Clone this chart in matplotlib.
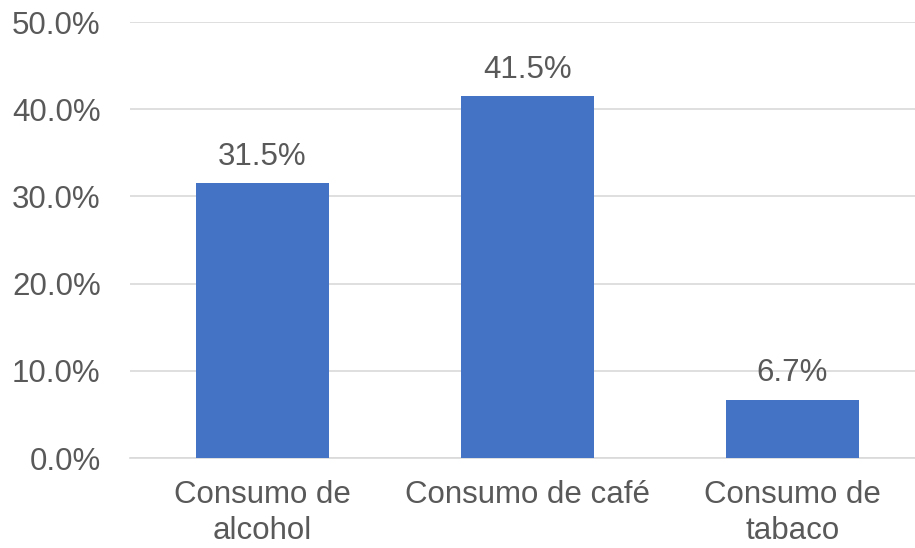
import matplotlib
matplotlib.use("Agg")
import matplotlib.pyplot as plt
from matplotlib.ticker import FuncFormatter, MultipleLocator

categories = ["Consumo de\nalcohol", "Consumo de café", "Consumo de\ntabaco"]
values = [31.5, 41.5, 6.7]

plt.rcParams["font.family"] = ["Liberation Sans", "DejaVu Sans"]
text_color = "#595959"
fs = 22.5

fig = plt.figure(figsize=(9.15, 5.48), dpi=100)
ax = fig.add_axes([129.8 / 915, 90 / 548, 795 / 915, 436 / 548])

x = range(len(categories))
bars = ax.bar(x, values, width=0.5, color="#4472C4", zorder=3)

ax.set_xlim(-0.5, len(categories) - 0.5)
ax.set_ylim(0, 50)
ax.yaxis.set_major_locator(MultipleLocator(10))
ax.yaxis.set_major_formatter(FuncFormatter(lambda v, _: f"{v:.1f}%"))
ax.grid(axis="y", color="#d9d9d9", linewidth=1.2, zorder=0)
ax.set_axisbelow(True)

for s in ["top", "right", "left"]:
    ax.spines[s].set_visible(False)
ax.spines["bottom"].set_color("#d9d9d9")
ax.spines["bottom"].set_linewidth(1.2)

ax.set_xticks(list(x))
ax.set_xticklabels(categories, fontsize=fs, color=text_color, linespacing=1.25)
ax.tick_params(axis="x", length=0, pad=16)
ax.tick_params(axis="y", length=0, pad=21, labelsize=fs, labelcolor=text_color)

for rect, v in zip(bars, values):
    ax.annotate(f"{v:.1f}%", (rect.get_x() + rect.get_width() / 2, v),
                xytext=(0, 8), textcoords="offset points",
                ha="center", va="bottom", fontsize=fs, color=text_color)

fig.savefig("out.png", dpi=100)
